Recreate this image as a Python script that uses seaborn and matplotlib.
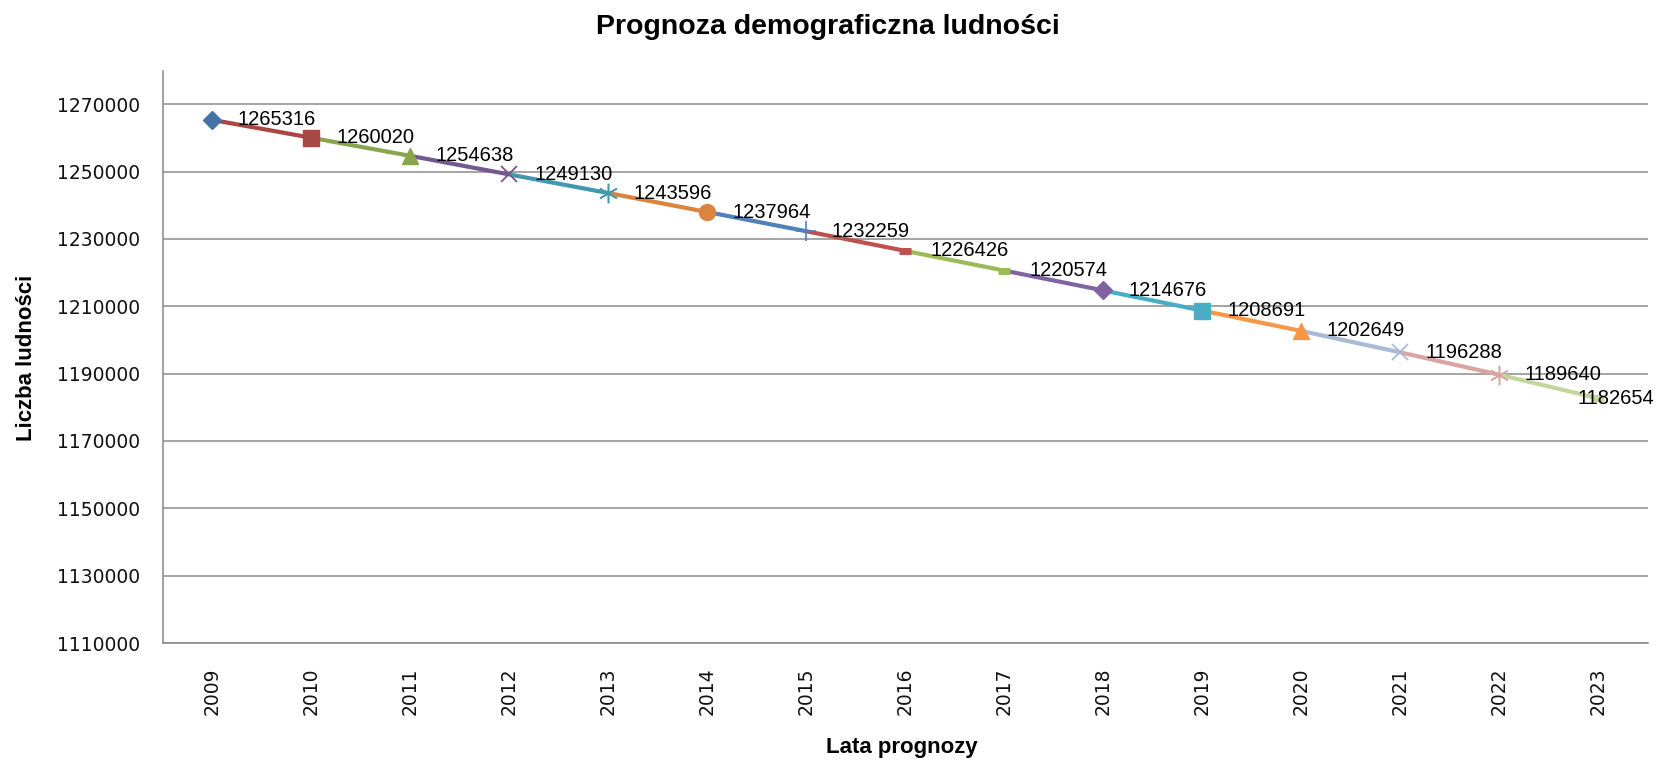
import matplotlib
matplotlib.use("Agg")
import matplotlib.pyplot as plt
import seaborn as sns
import numpy as np
import pandas as pd

# chart data
years = ["2009", "2010", "2011", "2012", "2013", "2014", "2015", "2016",
         "2017", "2018", "2019", "2020", "2021", "2022", "2023"]
population = [1265316, 1260020, 1254638, 1249130, 1243596, 1237964, 1232259,
              1226426, 1220574, 1214676, 1208691, 1202649, 1196288, 1189640,
              1182654]
y_ticks = list(range(1110000, 1270001, 20000))

# excel-like "vary colors by point" styling
point_colors = ["#4572A7", "#AA4643", "#89A54E", "#71588F", "#4198AF", "#DB843D",
                "#4F81BD", "#C0504D", "#9BBB59", "#8064A2", "#4BACC6", "#F79646",
                "#A9B9D6", "#D9A5A4", "#C3D69B"]
asterisk = (6, 2, 0)
point_markers = ["D", "s", "^", "x", asterisk, "o", "+", "_",
                 "_", "D", "s", "^", "x", asterisk, "_"]
marker_sizes = [9.5, 11.5, 12, 12, 14, 11.5, 15, 8, 8, 9.5, 11.5, 12, 12, 14, 8]
marker_widths = [1, 1, 1, 1.3, 1.1, 1, 1.2, 5, 5, 1, 1, 1, 1.3, 1.1, 5]

df = pd.DataFrame({"year": years, "population": population})
df["pos"] = np.arange(len(df))

sns.set_theme(style="white")
plt.rcParams["font.family"] = ["DejaVu Sans"]
plt.rcParams["text.color"] = "black"

fig = plt.figure(figsize=(16.74, 7.63), dpi=100)
ax = fig.add_axes([163 / 1674, 1 - 643 / 763, (1648 - 163) / 1674, (643 - 70.5) / 763])

# line segments, each one coloured like the point it ends on
for i in range(1, len(df)):
    seg = df.iloc[i - 1:i + 1]
    sns.lineplot(data=seg, x="pos", y="population", ax=ax, color=point_colors[i],
                 linewidth=3.0, solid_capstyle="butt", zorder=3)

# point markers
for i, row in df.iterrows():
    ax.plot(row["pos"], row["population"], marker=point_markers[i],
            color=point_colors[i], markersize=marker_sizes[i],
            markeredgewidth=marker_widths[i], markerfacecolor=point_colors[i],
            markeredgecolor=point_colors[i], linestyle="none", zorder=4)

# data labels
for i, row in df.iterrows():
    if i == len(df) - 1:
        off = -14.8
    else:
        off = 18
    ax.annotate(f"{row['population']}", (row["pos"], row["population"]),
                xytext=(off, 0), textcoords="offset points", ha="left", va="center",
                fontsize=14.5, family="Liberation Sans", color="black",
                zorder=5, annotation_clip=False)

ax.set_xlim(-0.5, len(df) - 0.5)
ax.set_ylim(1110000, 1280000)

ax.set_yticks(y_ticks)
ax.set_yticklabels([str(v) for v in y_ticks], fontsize=13.5, color="#111111")
ax.set_xticks(df["pos"])
ax.set_xticklabels(years, rotation=90, fontsize=13.5, color="#111111")
ax.set_xticks(np.arange(-0.5, len(df), 1), minor=True)
ax.tick_params(axis="x", which="major", length=0, pad=17.5)
ax.tick_params(axis="x", which="minor", length=5.5, width=1.1, color="#868686",
               direction="out")
ax.tick_params(axis="y", which="major", length=5.5, width=1.1, color="#868686",
               direction="out", pad=11)
ax.set_xlabel("")
ax.set_ylabel("")

ax.yaxis.grid(True, color="#8C8C8C", linewidth=1.1)
ax.xaxis.grid(False)
ax.set_axisbelow(True)
for side in ["top", "right"]:
    ax.spines[side].set_visible(False)
for side in ["left", "bottom"]:
    ax.spines[side].set_color("#868686")
    ax.spines[side].set_linewidth(1.1)

fig.text(828 / 1674, 1 - 33.5 / 763, "Prognoza demograficzna ludności",
         ha="center", va="baseline", fontsize=20.5, fontweight="bold",
         family="Liberation Sans", color="black")
fig.text(902 / 1674, 1 - 753 / 763, "Lata prognozy", ha="center", va="baseline",
         fontsize=16, fontweight="bold", family="Liberation Sans", color="black")
fig.text(27 / 1674, 1 - 357.5 / 763, "Liczba ludności", ha="center", va="center",
         rotation=90, fontsize=16, fontweight="bold", family="Liberation Sans",
         color="black")

fig.savefig("out.png", dpi=100, facecolor="white")
